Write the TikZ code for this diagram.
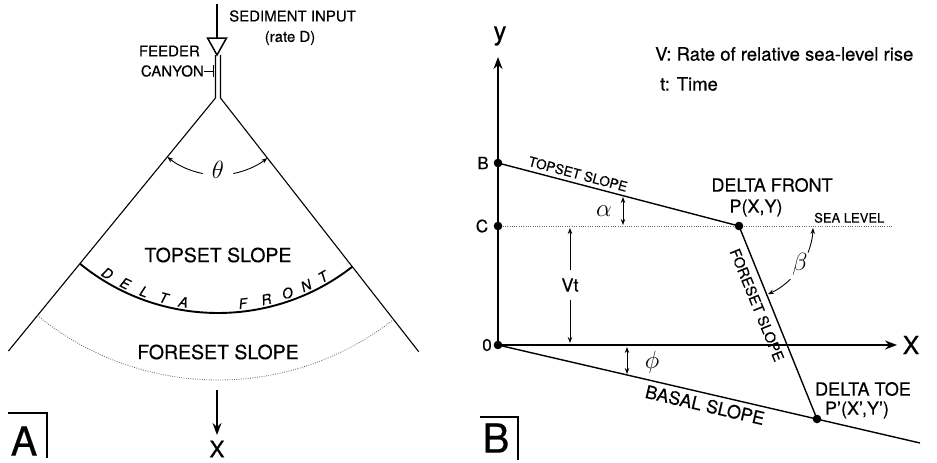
\documentclass[tikz,border=0pt]{standalone}
\usepackage{fontspec}
\setmainfont{TeX Gyre Heros}[FakeBold=0.4]
\usetikzlibrary{arrows.meta}
\newcommand{\fsz}[1]{\fontsize{#1}{#1}\selectfont}
\begin{document}
\begin{tikzpicture}[x=1pt,y=-1pt,
  txt/.style={inner sep=0pt},
  solidln/.style={line width=1.4pt},
  fanln/.style={line width=1.1pt},
  axisln/.style={line width=1.9pt},
  bigtip/.style={-{Stealth[length=12pt,width=9pt]}},
  smalltip/.style={line width=0.9pt,-{Stealth[length=6pt,width=4.5pt]}},
  dbl/.style={line width=0.9pt,{Stealth[length=6pt,width=4.5pt]}-{Stealth[length=6pt,width=4.5pt]}},
  dotln/.style={line width=0.9pt, black!60, dash pattern=on 1pt off 1.3pt},
  dotarc/.style={line width=0.8pt, black!65, dash pattern=on 0.8pt off 1.5pt},
]
\useasboundingbox (0,0) rectangle (937,463);

%%%%%%%%%%%%%%%% PANEL A %%%%%%%%%%%%%%%%
\coordinate (fanc) at (218,95);
\coordinate (srcTop) at (217,4);
\coordinate (triTop) at (217,38);
\coordinate (triL) at (207.5,38);
\coordinate (triR) at (226.5,38);
\coordinate (triB) at (217,55);
\coordinate (canL) at (215.5,55);
\coordinate (canR) at (220.5,55);
\coordinate (canLb) at (215.5,98);
\coordinate (canRb) at (220.5,98);

\draw[line width=1.9pt] (srcTop) -- (triTop);
\draw[line width=1.5pt, fill=white] (triL) -- (triR) -- (triB) -- cycle;
\draw[fanln] (canL) -- (canLb) -- ++(129.3:327) coordinate (fanLend);
\draw[fanln] (canR) -- (canRb) -- ++(52:322) coordinate (fanRend);

\node[txt, anchor=west, font=\fsz{15}] (sedin) at (229,16) {SEDIMENT INPUT};
\node[txt, font=\fsz{15}] (rateD) at (290,38) {(rate D)};
\node[txt, anchor=east, font=\fsz{15}] (feeder) at (200,51) {FEEDER};
\node[txt, anchor=east, font=\fsz{15}] (canyon) at (204,71) {CANYON};
\coordinate (tickA) at (213.5,71);
\draw[line width=1pt] (canyon.east) -- (tickA);
\draw[line width=1pt] (213.5,65) -- (213.5,77);

% delta front arc
\draw[line width=1.9pt] ([shift={(129.3:218)}]fanc) arc[start angle=129.3, end angle=52, radius=218];
% foreset lower limit (dotted)
\draw[dotarc] ([shift={(129.3:285)}]fanc) arc[start angle=129.3, end angle=52, radius=285];
% theta arc
\draw[smalltip] ([shift={(101:80)}]fanc) arc[start angle=101, end angle=129.3, radius=80];
\draw[smalltip] ([shift={(79:80)}]fanc) arc[start angle=79, end angle=52, radius=80];
\node[txt, font=\fsz{27}] (theta) at (218,170) {$\theta$};

\node[txt, font=\fsz{19.5}] (topsetA) at (218,255) {TOPSET SLOPE};
\node[txt, font=\fsz{19.5}] (foresetA) at (218,352) {FORESET SLOPE};

\foreach \l/\a/\r [count=\i] in {D/121.8/-31.8, E/116.2/-26.2, L/110.6/-20.6, T/105.0/-15.0, A/99.5/-9.5, F/83.2/6.8, R/76.7/13.3, O/70.7/19.3, N/65.2/24.8, T/60.0/30.0}
  \node[txt, rotate=\r, font=\fsz{14}\itshape] (df\i) at ([shift={(\a:210)}]fanc) {\l};

\coordinate (xAtop) at (217,390);
\coordinate (xAtip) at (217,435);
\draw[line width=1.5pt, -{Stealth[length=12pt,width=9pt]}] (xAtop) -- (xAtip);
\node[txt, font=\fsz{23}] (xA) at (217,449) {X};

\draw[line width=1.2pt] (8,413) -- (47,413) -- (47,458);
\node[txt, font=\fsz{40}] (labA) at (24,441) {A};

%%%%%%%%%%%%%%%% PANEL B %%%%%%%%%%%%%%%%
\coordinate (org) at (498,345);
\coordinate (ptB) at (498,163);
\coordinate (ptC) at (498,226);
\coordinate (ptP) at (739,226);
\coordinate (ptT) at (817,419);
\coordinate (ytip) at (498,57);
\coordinate (xtip) at (897,345);
\coordinate (bend) at (920,443);
\coordinate (send) at (892,226);

\draw[dotln] (ptC) -- (send);
\draw[axisln, bigtip] (org) -- (ytip);
\draw[line width=1.3pt, bigtip] (org) -- (xtip);
\draw[solidln] (ptB) -- (ptP) -- (ptT);
\draw[solidln] (org) -- (bend);
\foreach \p in {org,ptB,ptC,ptP,ptT} \fill (\p) circle (4.3);

\node[txt, font=\fsz{26}] (ylab) at (500,36) {y};
\node[txt, font=\fsz{25}] (xlab) at (911,345) {X};
\node[txt, font=\fsz{17}] (lab0) at (487,345) {0};
\node[txt, font=\fsz{17}] (labB) at (483,163) {B};
\node[txt, font=\fsz{17}] (labC) at (482,226) {C};

\node[txt, anchor=west, font=\fsz{18.5}] (vnote) at (655,54) {V: Rate of relative sea-level rise};
\node[txt, anchor=west, font=\fsz{18.5}] (tnote) at (660,84) {t: Time};

\node[txt, rotate=-14.9, font=\fsz{13.5}] (topsetB) at (578,174) {TOPSET SLOPE};
\node[txt, font=\fsz{18}] (dfront) at (772,185) {DELTA FRONT};
\node[txt, font=\fsz{18}] (pxy) at (756,208) {P(X,Y)};
\node[txt, anchor=south west, font=\fsz{13}] (sealev) at (814,223) {SEA LEVEL};
\node[txt, rotate=-67.8, font=\fsz{14.5}] (foresetB) at (757,305) {FORESET SLOPE};
\node[txt, rotate=-13.1, font=\fsz{18}] (basal) at (705,405) {BASAL SLOPE};
\node[txt, font=\fsz{18}] (dtoe) at (863,389) {DELTA TOE};
\node[txt, font=\fsz{18}] (ptxy) at (857,410) {P'(X',Y')};

% alpha
\coordinate (alTop) at (623,197);
\coordinate (alBot) at (623,225);
\draw[dbl] (alTop) -- (alBot);
\node[txt, font=\fsz{27}] (alpha) at (604,211) {$\alpha$};
% phi
\coordinate (phTop) at (627,347);
\coordinate (phBot) at (627,374);
\draw[dbl] (phTop) -- (phBot);
\node[txt, font=\fsz{27}] (phi) at (652,362) {$\phi$};
% Vt
\node[txt, font=\fsz{18}] (vt) at (570,285) {Vt};
\coordinate (vtTop) at (570,228);
\coordinate (vtBot) at (570,343);
\draw[smalltip] (vt.north) ++(0,-8) -- (vtTop);
\draw[smalltip] (vt.south) ++(0,8) -- (vtBot);
% beta
\draw[smalltip] ([shift={(21:74)}]ptP) arc[start angle=21, end angle=1.5, radius=74];
\draw[smalltip] ([shift={(46:74)}]ptP) arc[start angle=46, end angle=67, radius=74];
\node[txt, font=\fsz{27}] (beta) at (800,264) {$\beta$};

\draw[line width=1.2pt] (480,417) -- (518,417) -- (518,460);
\node[txt, font=\fsz{40}] (labB2) at (496,438) {B};
\end{tikzpicture}
\end{document}
